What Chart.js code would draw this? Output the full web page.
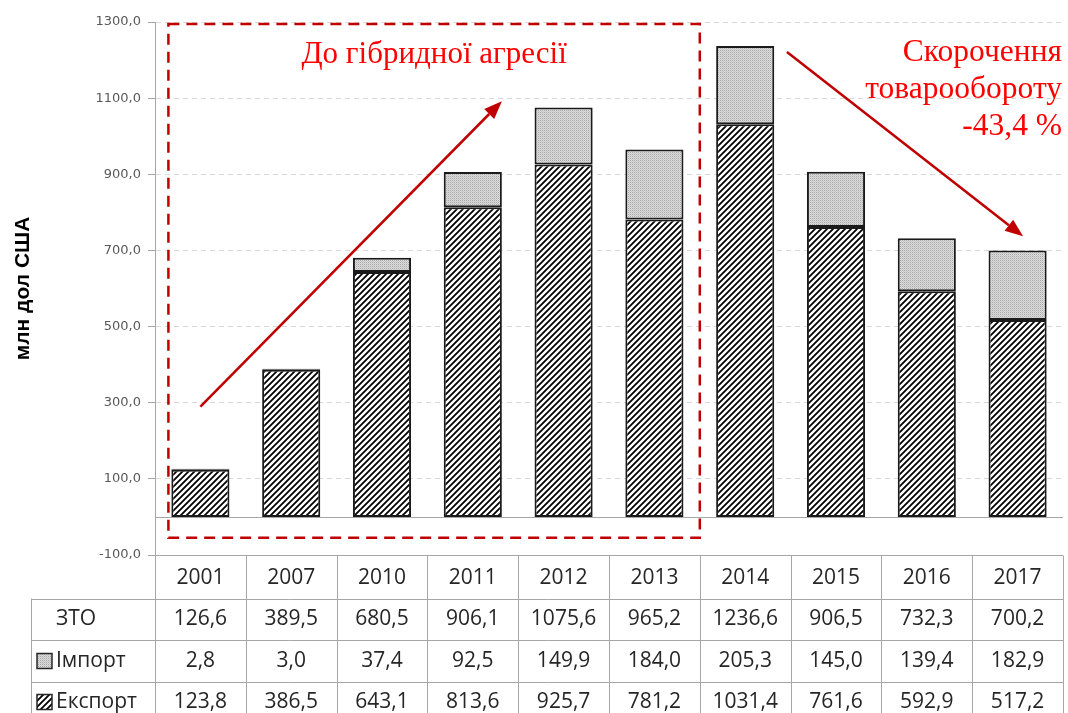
<!DOCTYPE html>
<html>
<head>
<meta charset="utf-8">
<script src="https://cdn.jsdelivr.net/npm/chart.js@4"></script>
<style>
  html, body { margin: 0; padding: 0; background: #fff; }
  #wrap { width: 1068px; height: 713px; position: relative; }
</style>
</head>
<body>
<div id="wrap"><canvas id="tradeChart" width="1068" height="713"></canvas></div>
<script>
const years = ['2001', '2007', '2010', '2011', '2012', '2013', '2014', '2015', '2016', '2017'];
const tradeTotal = [126.6, 389.5, 680.5, 906.1, 1075.6, 965.2, 1236.6, 906.5, 732.3, 700.2];
const importValues = [2.8, 3.0, 37.4, 92.5, 149.9, 184.0, 205.3, 145.0, 139.4, 182.9];
const exportValues = [123.8, 386.5, 643.1, 813.6, 925.7, 781.2, 1031.4, 761.6, 592.9, 517.2];
const yTickValues = [-100, 100, 300, 500, 700, 900, 1100, 1300];
const axisTitle = 'млн дол США';
const beforeLabel = 'До гібридної агресії';
const declineLines = ['Скорочення', 'товарообороту', '-43,4 %'];

const GRID = '#a6a6a6';
const RED_LINE = '#c00000';
const RED_TEXT = '#ff0000';

const fmt = v => v.toFixed(1).replace('.', ',');

// hatched fill for export
function makeHatch() {
  const c = document.createElement('canvas');
  c.width = 6; c.height = 6;
  const g = c.getContext('2d');
  g.fillStyle = '#fff';
  g.fillRect(0, 0, 6, 6);
  g.strokeStyle = '#000';
  g.lineWidth = 1.8;
  g.beginPath();
  g.moveTo(-1, 7); g.lineTo(7, -1);
  g.moveTo(-4, 4); g.lineTo(4, -4);
  g.moveTo(2, 10); g.lineTo(10, 2);
  g.stroke();
  return g.createPattern(c, 'repeat');
}

// fine dotted grey fill for import
function makeDots() {
  const c = document.createElement('canvas');
  c.width = 2; c.height = 2;
  const g = c.getContext('2d');
  g.fillStyle = '#dcdcdc';
  g.fillRect(0, 0, 2, 2);
  g.fillStyle = '#a8a8a8';
  g.fillRect(0, 0, 1, 1);
  g.fillStyle = '#c8c8c8';
  g.fillRect(1, 1, 1, 1);
  return g.createPattern(c, 'repeat');
}

const ctx0 = document.getElementById('tradeChart').getContext('2d');
const hatch = makeHatch();
const dots = makeDots();

function drawArrow(ctx, x1, y1, x2, y2) {
  const a = Math.atan2(y2 - y1, x2 - x1);
  const len = 18, half = 7;
  const bx = x2 - len * Math.cos(a), by = y2 - len * Math.sin(a);
  ctx.save();
  ctx.strokeStyle = RED_LINE;
  ctx.fillStyle = RED_LINE;
  ctx.lineWidth = 2.5;
  ctx.beginPath();
  ctx.moveTo(x1, y1);
  ctx.lineTo(bx, by);
  ctx.stroke();
  ctx.beginPath();
  ctx.moveTo(x2, y2);
  ctx.lineTo(bx + half * Math.sin(a), by - half * Math.cos(a));
  ctx.lineTo(bx - half * Math.sin(a), by + half * Math.cos(a));
  ctx.closePath();
  ctx.fill();
  ctx.restore();
}

function drawKey(ctx, x, y, fill) {
  ctx.save();
  ctx.fillStyle = fill;
  ctx.fillRect(x, y, 15, 15);
  ctx.strokeStyle = '#262626';
  ctx.lineWidth = 1.5;
  ctx.strokeRect(x, y, 15, 15);
  ctx.restore();
}

const overlay = {
  id: 'overlay',
  beforeDatasetsDraw(chart) {
    const { ctx, chartArea } = chart;
    const y0 = chart.scales.y.getPixelForValue(0);
    ctx.save();
    ctx.strokeStyle = GRID;
    ctx.lineWidth = 1;
    ctx.beginPath();
    ctx.moveTo(chartArea.left, Math.round(y0) + 0.5);
    ctx.lineTo(chartArea.right, Math.round(y0) + 0.5);
    ctx.stroke();
    ctx.restore();
  },
  afterDraw(chart) {
    const { ctx, chartArea } = chart;
    const xs = chart.scales.x, ys = chart.scales.y;
    const colW = (chartArea.right - chartArea.left) / years.length;

    // ---- data table under the plot ----
    const tTop = Math.round(chartArea.bottom) + 0.5;
    const headH = 43, rowH = 41.5;
    const tableLeft = 31.5;
    const rows = [
      { label: 'ЗТО', values: tradeTotal },
      { label: 'Імпорт', values: importValues, key: dots },
      { label: 'Експорт', values: exportValues, key: hatch }
    ];
    const tBottom = tTop + headH + rowH * rows.length;
    ctx.save();
    ctx.strokeStyle = GRID;
    ctx.lineWidth = 1;
    ctx.beginPath();
    ctx.moveTo(chartArea.left, tTop); ctx.lineTo(chartArea.right, tTop);
    for (let r = 0; r <= rows.length; r++) {
      const yy = Math.round(tTop + headH + rowH * r) + 0.5;
      ctx.moveTo(tableLeft, yy); ctx.lineTo(chartArea.right, yy);
    }
    for (let i = 0; i <= years.length; i++) {
      const xx = Math.round(chartArea.left + colW * i) + 0.5;
      ctx.moveTo(xx, tTop); ctx.lineTo(xx, tBottom);
    }
    ctx.moveTo(tableLeft, tTop + headH); ctx.lineTo(tableLeft, tBottom);
    ctx.stroke();

    ctx.fillStyle = '#262626';
    ctx.font = '21px "Open Sans"';
    ctx.textAlign = 'center';
    ctx.textBaseline = 'middle';
    years.forEach((yr, i) => ctx.fillText(yr, xs.getPixelForValue(i), tTop + headH / 2 + 1));
    rows.forEach((row, r) => {
      const cy = tTop + headH + rowH * r + rowH / 2;
      row.values.forEach((v, i) => ctx.fillText(fmt(v), xs.getPixelForValue(i), cy));
      ctx.textAlign = 'left';
      ctx.fillText(row.label, 56, cy);
      ctx.textAlign = 'center';
      if (row.key) drawKey(ctx, 37, Math.round(cy - 8) + 0.5, row.key);
    });
    ctx.restore();

    // ---- dashed frame round the pre-aggression years ----
    const fx1 = xs.getPixelForValue(0) - 32;
    const fx2 = (xs.getPixelForValue(5) + xs.getPixelForValue(6)) / 2;
    const fy1 = ys.getPixelForValue(1295);
    const fy2 = ys.getPixelForValue(-55);
    ctx.save();
    ctx.strokeStyle = RED_LINE;
    ctx.lineWidth = 2.5;
    ctx.setLineDash([11, 7]);
    ctx.strokeRect(fx1, fy1, fx2 - fx1, fy2 - fy1);
    ctx.restore();

    // ---- arrows ----
    drawArrow(ctx, xs.getPixelForValue(0), ys.getPixelForValue(290),
      xs.getPixelForValue(3.32), ys.getPixelForValue(1092));
    drawArrow(ctx, xs.getPixelForValue(6.46), ys.getPixelForValue(1221),
      xs.getPixelForValue(9.06), ys.getPixelForValue(737));

    // ---- red captions ----
    ctx.save();
    ctx.fillStyle = RED_TEXT;
    ctx.font = '31px "Liberation Serif"';
    ctx.textBaseline = 'middle';
    ctx.textAlign = 'center';
    ctx.fillText(beforeLabel, (fx1 + fx2) / 2, fy1 + 31);
    ctx.textAlign = 'right';
    ctx.font = '31.5px "Liberation Serif"';
    declineLines.forEach((t, i) => ctx.fillText(t, chartArea.right - 1, 53 + i * 37));
    ctx.restore();
  }
};

new Chart(ctx0, {
  type: 'bar',
  data: {
    labels: years,
    datasets: [
      {
        label: 'Експорт',
        data: exportValues,
        backgroundColor: hatch,
        borderColor: '#1a1a1a',
        borderWidth: 2,
        borderSkipped: false
      },
      {
        label: 'Імпорт',
        data: importValues,
        backgroundColor: dots,
        borderColor: '#1a1a1a',
        borderWidth: 2,
        borderSkipped: false
      }
    ]
  },
  options: {
    responsive: false,
    animation: false,
    layout: { padding: { left: 11, top: 22, right: 5, bottom: 158 } },
    datasets: { bar: { categoryPercentage: 1, barPercentage: 0.64 } },
    plugins: { legend: { display: false }, tooltip: { enabled: false } },
    scales: {
      x: { display: false, stacked: true },
      y: {
        stacked: true,
        min: -100,
        max: 1300,
        afterBuildTicks: s => { s.ticks = yTickValues.map(v => ({ value: v })); },
        afterFit: s => { s.width = 144; },
        border: { display: true, color: GRID, dash: [5, 4] },
        grid: {
          color: c => (c.tick && c.tick.value === -100 ? 'rgba(0,0,0,0)' : '#d9d9d9'),
          tickColor: GRID,
          tickLength: 7,
          tickBorderDash: []
        },
        ticks: {
          color: '#595959',
          font: { family: 'DejaVu Sans', size: 13 },
          padding: 7,
          callback: v => fmt(v)
        },
        title: {
          display: true,
          text: axisTitle,
          color: '#000',
          font: { family: 'Liberation Sans', size: 21, weight: 'bold' },
          padding: { top: 0, bottom: 4 }
        }
      }
    }
  },
  plugins: [overlay]
});
</script>
</body>
</html>
